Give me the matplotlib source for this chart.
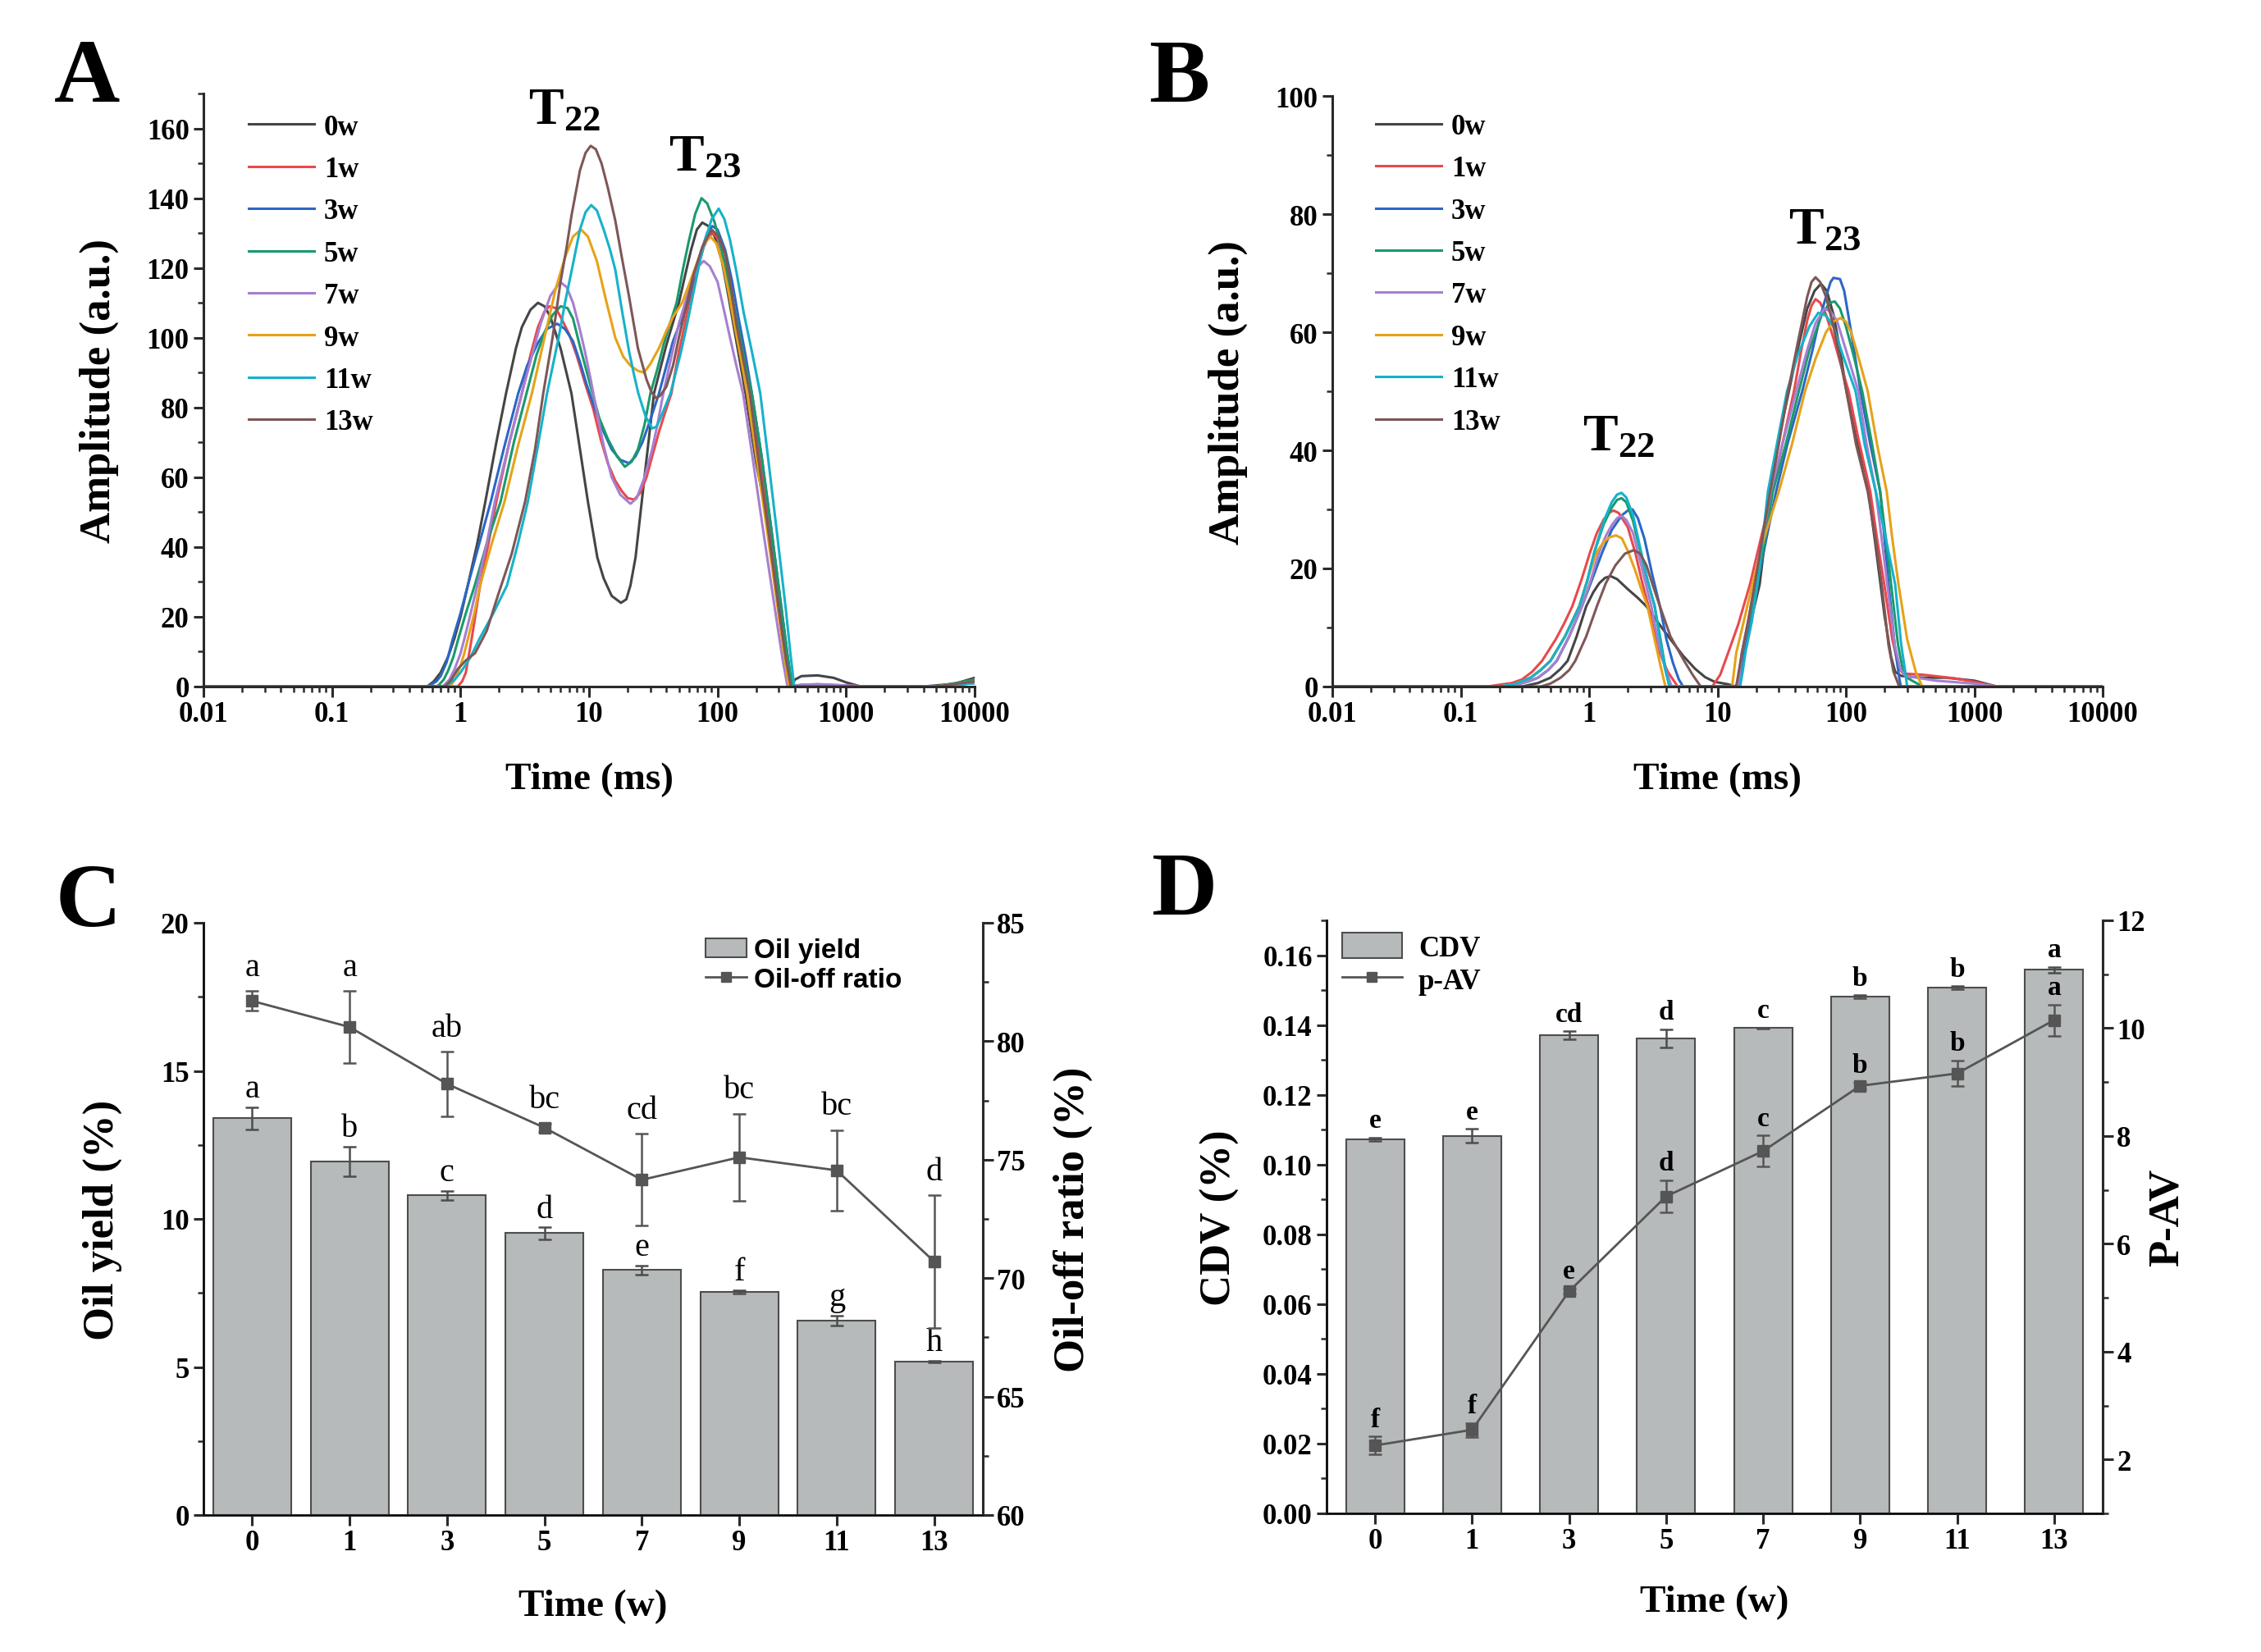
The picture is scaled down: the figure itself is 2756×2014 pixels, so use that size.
import matplotlib
matplotlib.use("Agg")
import matplotlib.pyplot as plt
from matplotlib.lines import Line2D
from matplotlib.patches import Patch
from matplotlib.ticker import MultipleLocator, FixedLocator, FormatStrFormatter

plt.rcParams['font.family'] = ['Liberation Serif', 'DejaVu Serif']
plt.rcParams['font.weight'] = 'bold'
plt.rcParams['axes.labelweight'] = 'bold'
plt.rcParams['mathtext.fontset'] = 'custom'
plt.rcParams['mathtext.rm'] = 'Liberation Serif:bold'
plt.rcParams['mathtext.it'] = 'Liberation Serif:bold'
plt.rcParams['mathtext.bf'] = 'Liberation Serif:bold'

# ---- data --------------------------------------------------------------
week_labels = ['0w', '1w', '3w', '5w', '7w', '9w', '11w', '13w']
week_colors = ['#454545', '#e8494d', '#2b67c4', '#1a9a6c', '#a67fd0',
               '#e6a219', '#16b2c9', '#7e5756']

# panel A: T2 distribution, amplitude vs relaxation time (ms)
a0_t = [0.01, 0.55, 0.62, 0.7, 0.8, 0.9, 1.0, 1.14, 1.35, 1.56, 1.9, 2.26, 2.7, 3.0, 3.5,
        4.0, 4.5, 5.0, 6.0, 7.3, 8.5, 9.8, 11.6, 13, 15, 17.7, 19.5, 21, 23, 27, 32, 40,
        50, 56, 62, 69, 76, 85, 95, 108, 120, 140, 165, 200, 250, 300, 340, 370, 400, 450,
        600, 800, 1000, 1300, 4000, 7000, 10000]
a0_amp = [0, 0, 1.5, 4, 8.5, 14, 20, 29, 41, 53, 70, 84, 97, 103, 108, 110, 109, 106, 97,
          84, 68, 53, 37, 31, 26, 24, 25, 29, 37, 60, 84, 98, 110, 118, 125, 131, 133, 132,
          129, 122, 113, 99, 84, 64, 46, 25, 11, 0, 2, 3, 3.2, 2.5, 1.2, 0, 0, 0.8, 2.5]
a1_t = [0.01, 0.95, 1.03, 1.1, 1.22, 1.3, 1.42, 1.65, 1.9, 2.4, 3.0, 3.5, 4.0, 4.5, 4.9, 5.5,
        6.0, 7.0, 8.0, 9.3, 10.8, 12.3, 14, 16, 18, 20, 22.5, 25, 28, 31, 35, 39, 43.7, 50,
        55, 60, 65, 71, 78, 85, 92, 100, 108, 115, 125, 140, 160, 180, 215, 250, 300, 340,
        375, 450, 600, 1000, 1500, 5000, 10000]
a1_amp = [0, 0, 1.5, 4, 13.6, 20, 29, 41, 53, 70, 84, 95, 103, 107.5, 109, 108.5, 106, 101,
          95, 87, 79.5, 71, 64, 59, 56, 54, 53.6, 55.5, 60, 66, 73, 78.5, 84, 96, 103, 110,
          115, 121, 126, 129, 130, 128.5, 125, 121, 114, 104, 94, 84, 64, 46, 25, 11, 0,
          0.5, 0.6, 0.3, 0, 0, 1.5]
a3_t = [0.01, 0.56, 0.59, 0.65, 0.7, 0.78, 0.87, 1.0, 1.14, 1.4, 1.72, 2.2, 2.81, 3.3, 4.0,
        4.7, 5.66, 6.5, 7.5, 8.5, 9.5, 11, 13, 15, 17.5, 20.5, 23, 26, 30, 35, 40, 45, 52,
        58.6, 66, 75, 83, 91, 100, 115, 130, 145, 165, 185, 220, 260, 310, 350, 380, 5000,
        10000]
a3_amp = [0, 0, 0.5, 1.5, 3, 7, 13.6, 21, 29, 41, 53, 69, 84, 92, 98.5, 102.5, 104, 102.5,
          99, 93, 87, 80, 73, 68, 65, 64, 66, 70, 76.5, 84, 92, 99, 105, 110, 118, 125, 130,
          132, 131, 125, 116, 106, 95, 84, 66, 46, 24, 9, 0, 0, 1]
a5_t = [0.01, 0.65, 0.68, 0.74, 0.8, 0.88, 0.96, 1.1, 1.29, 1.6, 2.05, 2.6, 3.26, 3.9, 4.5,
        5.2, 6.0, 6.8, 7.5, 8.5, 10.3, 12, 14, 16.5, 19, 21.5, 24, 27, 30, 34, 38, 43, 48,
        54, 60, 67, 75, 83, 95, 108, 120, 135, 150, 165, 185, 220, 260, 310, 350, 380, 5000,
        10000]
a5_amp = [0, 0, 0.5, 2, 4.5, 8.5, 13.6, 21, 29, 41, 53, 70, 84, 95, 101.5, 106.5, 109, 108.5,
          105.5, 97.5, 86, 77, 71, 66, 63, 64.5, 68, 75, 84, 91, 98, 104.5, 110, 120, 128,
          135.5, 140, 138.5, 133, 125, 117, 108.5, 100, 92, 84, 66, 46, 24, 9, 0, 0, 2]
a7_t = [0.01, 0.72, 0.75, 0.82, 0.9, 1.0, 1.07, 1.2, 1.35, 1.6, 1.85, 2.4, 3.0, 3.6, 4.2, 5.0,
        5.96, 6.7, 7.5, 8.4, 9.3, 10.3, 11.4, 13, 15, 17.5, 21, 23.5, 27, 31, 34, 37.8, 44,
        50, 57, 64, 71, 78, 87, 100, 112, 125, 140, 158, 190, 230, 280, 320, 350, 450, 600,
        1000, 1500, 5000, 10000]
a7_amp = [0, 0, 0.5, 2, 5, 9.5, 13.6, 21, 29, 41, 53, 70, 84, 95, 104, 112, 116, 114.5, 110,
          103, 96, 88, 79.5, 69, 60, 55, 52.4, 54, 60, 68, 75, 84, 95, 104, 111, 117, 120.5,
          122, 120.5, 116, 108, 100, 92, 84, 64, 43, 22, 8, 0, 0.5, 0.7, 0.3, 0, 0, 1]
a9_t = [0.01, 0.82, 0.85, 0.92, 1.0, 1.07, 1.14, 1.28, 1.42, 1.75, 2.2, 2.8, 3.59, 4.5, 5.5,
        6.5, 7.5, 8.67, 9.8, 11.5, 13.5, 16, 18.5, 21, 24, 26.8, 30, 35, 40, 45, 53, 61, 70,
        79, 88, 98, 110, 122, 135, 152, 170, 200, 240, 290, 330, 360, 5000, 10000]
a9_amp = [0, 0, 0.5, 2.5, 6, 9.5, 13.6, 21, 29, 41, 53, 69, 84, 100, 114, 123, 129, 131, 129,
          122, 111, 100, 94.5, 92, 90.5, 90, 92.5, 97, 102, 106, 110, 116, 122, 127, 129, 127,
          121, 113, 104, 94, 84, 66, 46, 24, 9, 0, 0, 1.5]
a11_t = [0.01, 0.77, 0.8, 0.9, 1.0, 1.2, 1.4, 1.8, 2.3, 2.8, 3.34, 4.0, 4.71, 5.8, 6.5, 7.3,
         8.5, 9.4, 10.4, 11.5, 13, 14.5, 16, 18, 20.5, 22.5, 24.2, 27.5, 31, 33.5, 36, 43,
         52, 58, 65, 72, 80, 90, 102, 113, 125, 140, 160, 185, 215, 250, 290, 340, 370, 395,
         5000, 10000]
a11_amp = [0, 0, 0.5, 2, 4, 8.5, 13.6, 21, 29, 41, 53, 69, 84, 100, 110, 119, 131, 136, 138,
           136.5, 131, 125.5, 119.5, 108, 96, 89, 84, 77.5, 74, 74.5, 77, 84, 96, 104, 113,
           121, 128, 134, 137, 134, 128, 119, 107, 96, 84, 64, 44, 22, 9, 0, 0, 1]
a13_t = [0.01, 0.75, 0.78, 0.85, 0.95, 1.1, 1.3, 1.6, 1.95, 2.5, 3.18, 3.8, 4.4, 5.2, 6.0,
         6.7, 7.3, 8.5, 9.4, 10.3, 11.3, 12.5, 14, 16, 18, 20.5, 24, 28, 30.5, 33.4, 36, 40,
         45, 50, 57, 65, 76, 90, 102, 115, 128, 140, 158, 178, 210, 250, 300, 340, 372, 5000,
         10000]
a13_amp = [0, 0, 0.5, 2, 5, 7.5, 9.6, 16, 26, 38, 53, 68, 84, 100, 116, 126, 135, 148, 153,
           155, 154, 150, 143, 133.6, 123, 111.7, 97, 88, 84.5, 82.6, 83.5, 86, 92, 100, 109,
           118, 126, 131, 129, 124, 114, 104, 94, 84, 64, 44, 22, 8, 0, 0, 1.5]

# panel B
b0_t = [0.01, 0.3, 0.4, 0.5, 0.6, 0.68, 0.8, 0.95, 1.08, 1.2, 1.33, 1.47, 1.65, 2.0, 2.4, 2.79,
        3.4, 4.3, 5.4, 6.7, 8, 9.5, 12, 14, 15.5, 17.5, 21.3, 26, 30, 36, 42, 50, 57, 64,
        71, 80, 90, 101, 120, 144, 170, 200, 225, 242, 270, 400, 600, 1000, 1500, 10000]
b0_amp = [0, 0, 0.6, 1.5, 3, 4.35, 8.5, 13.6, 16, 17.5, 18.4, 18.7, 18.2, 16.5, 15, 13.6, 11,
          8, 5.2, 3, 1.6, 0.8, 0.4, 0, 3, 9.5, 17.3, 33, 42, 50, 57, 64, 67, 68.2, 67, 63,
          57, 50, 42, 35.8, 24, 12, 5, 2.5, 1.8, 1.5, 1.5, 1, 0, 0]
b1_t = [0.01, 0.16, 0.2, 0.25, 0.3, 0.36, 0.43, 0.55, 0.64, 0.74, 0.87, 1.02, 1.15, 1.3, 1.45,
        1.55, 1.7, 2.0, 2.3, 2.6, 2.9, 3.2, 3.5, 4.1, 4.9, 9.1, 10.5, 12.1, 14.5, 17.9, 22,
        26.6, 32, 39.4, 45, 50, 54, 58, 63, 70, 80, 90, 105, 125, 155, 175, 199, 230, 260,
        280, 400, 700, 1000, 1500, 10000]
b1_amp = [0, 0, 0.3, 0.6, 1.2, 2.5, 4.35, 8, 10.7, 13.6, 18, 22.8, 26, 28.3, 29.5, 29.8, 29.4,
          27, 22.5, 17.5, 13.6, 9.5, 6, 2.5, 0, 0, 2, 5.7, 10.5, 17.3, 25.5, 33, 41, 50, 57,
          62, 64.5, 65.6, 65, 63, 59, 55, 50, 42, 33, 25, 17.3, 8, 3, 2.2, 2, 1.4, 0.8, 0, 0]
b3_t = [0.01, 0.22, 0.28, 0.34, 0.4, 0.48, 0.56, 0.7, 0.88, 1.05, 1.27, 1.5, 1.8, 2.0, 2.18,
        2.4, 2.7, 3.1, 3.56, 4.0, 4.5, 5.0, 5.4, 14, 15, 16, 18, 20.3, 24, 28.6, 35, 45.7,
        55, 62, 70, 76, 80, 90, 97, 110, 130, 155, 185, 200, 215, 240, 260, 268, 10000]
b3_amp = [0, 0, 0.4, 0.9, 1.5, 2.8, 4.35, 8.5, 13.6, 18, 22.8, 26.5, 29, 29.8, 30, 28.5, 25,
          19, 13.6, 8, 4, 1.2, 0, 0, 2.5, 5.7, 11, 17.3, 25, 33, 41, 50, 57, 62, 66, 68.5,
          69.2, 69, 67, 60, 50, 41, 33, 25, 17.3, 7, 1.5, 0, 0]
b5_t = [0.01, 0.2, 0.26, 0.3, 0.35, 0.42, 0.5, 0.65, 0.84, 0.97, 1.1, 1.3, 1.5, 1.65, 1.79,
        1.95, 2.2, 2.5, 2.85, 3.24, 3.6, 3.9, 4.23, 14.5, 15.5, 17.5, 20.3, 23.5, 27, 34, 43,
        52, 65, 75, 82, 90, 100, 115, 134, 160, 185, 205, 225, 255, 280, 300, 340, 400, 10000]
b5_amp = [0, 0, 0.4, 0.9, 1.5, 2.8, 4.35, 8.5, 13.6, 18, 22.8, 27.5, 30.3, 31.6, 31.9, 31.2,
          28, 23, 18, 13.6, 8, 3.5, 0, 0, 5.7, 11, 17.3, 25, 33, 41, 50, 57, 63, 65, 65.2, 64,
          61, 56, 50, 41, 33, 25, 17.3, 7, 2.5, 1.5, 0.8, 0, 0]
b7_t = [0.01, 0.22, 0.28, 0.34, 0.4, 0.48, 0.56, 0.7, 0.88, 1.03, 1.2, 1.35, 1.5, 1.65, 1.79,
        1.95, 2.2, 2.55, 3.05, 3.5, 4.0, 4.4, 14.5, 15.5, 17.3, 19.5, 22.5, 26, 32, 41, 50,
        58, 68, 76, 85, 100, 125, 145, 171, 190, 210, 240, 265, 290, 500, 1000, 1500, 10000]
b7_amp = [0, 0, 0.4, 0.9, 1.5, 2.8, 4.35, 8.5, 13.6, 18, 22.8, 25.5, 27.3, 28.5, 28.9, 28.2,
          26, 20.5, 13.6, 7, 2.5, 0, 0, 5.7, 11, 17.3, 25, 33, 41, 50, 57, 61.5, 64, 63.5,
          62, 57, 50, 41, 33, 25, 17.3, 7, 3, 1.8, 1, 0.5, 0, 0]
b9_t = [0.01, 0.2, 0.26, 0.3, 0.35, 0.42, 0.5, 0.65, 0.84, 1.0, 1.15, 1.3, 1.45, 1.62, 1.8,
        2.0, 2.3, 2.55, 2.85, 3.2, 3.6, 3.93, 13, 14, 16, 18.7, 23, 30, 38, 48, 58, 70, 80,
        90.6, 100, 110, 128, 148, 175, 208, 230, 257, 300, 350, 393, 10000]
b9_amp = [0, 0, 0.4, 0.9, 1.5, 2.8, 4.35, 8.5, 13.6, 19, 22.8, 24.5, 25.3, 25.6, 25.1, 23,
          19.5, 16.5, 13.6, 8.5, 3.5, 0, 0, 5.7, 11, 17.3, 25, 33, 41, 50, 55.5, 60, 61.8,
          62.4, 61.8, 60, 55, 50, 41, 33, 25, 17.3, 8, 2.5, 0, 0]
b11_t = [0.01, 0.2, 0.26, 0.3, 0.35, 0.42, 0.5, 0.65, 0.84, 0.97, 1.1, 1.3, 1.5, 1.65, 1.79,
         1.95, 2.2, 2.5, 2.85, 3.24, 3.6, 3.9, 4.23, 15, 15.7, 16.5, 18.5, 20.5, 22.5, 24.7,
         29, 34.8, 42, 52, 61, 70, 80, 95, 119, 140, 171, 205, 242, 270, 290, 300, 10000]
b11_amp = [0, 0, 0.4, 0.9, 1.5, 2.8, 4.35, 8.5, 13.6, 18, 22.8, 28, 31.2, 32.5, 32.8, 32, 29,
           23.5, 18, 13.6, 7.5, 3, 0, 0, 2.5, 5.7, 11, 17.3, 25, 33, 41, 50, 56, 61, 63.3,
           62.8, 61, 56, 50, 41, 33, 25, 17.3, 7, 2.5, 0, 0]
b13_t = [0.01, 0.42, 0.5, 0.6, 0.7, 0.78, 0.95, 1.15, 1.35, 1.6, 1.9, 2.23, 2.5, 2.8, 3.15,
         3.56, 4.3, 5.5, 6.4, 7.4, 14, 15.5, 17.3, 19.5, 22.3, 25.7, 30, 35.5, 42, 50, 54,
         58, 63, 70, 80, 101, 120, 148, 170, 190, 215, 235, 250, 260, 10000]
b13_amp = [0, 0, 0.5, 1.5, 2.8, 4.35, 8.5, 13.6, 17.5, 20.5, 22.5, 23.1, 22.5, 20.5, 17,
           13.6, 8.5, 4.35, 2, 0, 0, 5.7, 11, 17.3, 25, 33, 41, 50, 58, 66, 68.5, 69.3, 68.5,
           66, 61, 50, 41, 33, 25, 17.3, 7, 2.5, 1, 0, 0]

# panels C and D (storage time in weeks)
weeks = ['0', '1', '3', '5', '7', '9', '11', '13']
oil_yield = [13.4, 11.95, 10.8, 9.52, 8.28, 7.54, 6.57, 5.18]
oil_yield_err = [0.38, 0.5, 0.15, 0.2, 0.15, 0.06, 0.17, 0.03]
oil_off = [81.7, 80.6, 78.2, 76.35, 74.15, 75.1, 74.55, 70.7]
oil_off_err = [0.42, 1.52, 1.36, 0.18, 1.94, 1.84, 1.7, 2.8]
yield_letters = ['a', 'b', 'c', 'd', 'e', 'f', 'g', 'h']
off_letters = ['a', 'a', 'ab', 'bc', 'cd', 'bc', 'bc', 'd']

cdv = [0.1072, 0.1082, 0.1370, 0.1362, 0.1391, 0.1481, 0.1507, 0.1558]
cdv_err = [0.0005, 0.0020, 0.0012, 0.0026, 0.0002, 0.0004, 0.0004, 0.0008]
pav = [2.26, 2.55, 5.12, 6.88, 7.72, 8.93, 9.16, 10.15]
pav_err = [0.17, 0.13, 0.05, 0.30, 0.29, 0.06, 0.24, 0.29]
cdv_letters = ['e', 'e', 'cd', 'd', 'c', 'b', 'b', 'a']
pav_letters = ['f', 'f', 'e', 'd', 'c', 'b', 'b', 'a']

A_series = [(a0_t, a0_amp), (a1_t, a1_amp), (a3_t, a3_amp), (a5_t, a5_amp),
            (a7_t, a7_amp), (a9_t, a9_amp), (a11_t, a11_amp), (a13_t, a13_amp)]
B_series = [(b0_t, b0_amp), (b1_t, b1_amp), (b3_t, b3_amp), (b5_t, b5_amp),
            (b7_t, b7_amp), (b9_t, b9_amp), (b11_t, b11_amp), (b13_t, b13_amp)]

# ---- layout --------------------------------------------------------------
W, H = 2756, 2015
fig = plt.figure(figsize=(W / 100, H / 100), dpi=100)


def rect(l, t, r, b):
    return [l / W, 1 - b / H, (r - l) / W, (b - t) / H]


SPINE = '#2a2a2a'
TICK_FS = 25
XLABEL_FS = 34
YLABEL_FS = 38
BAR_FC = '#b6baba'
BAR_EC = '#4d4d4d'
LINE_C = '#555555'


def style(ax):
    for s in ['top', 'right']:
        ax.spines[s].set_visible(False)
    for s in ['left', 'bottom']:
        ax.spines[s].set_linewidth(2.2)
        ax.spines[s].set_color(SPINE)
    ax.tick_params(which='major', direction='out', length=9, width=2.2,
                   labelsize=TICK_FS, color=SPINE)
    ax.tick_params(which='minor', direction='out', length=5, width=1.8, color=SPINE)


def style_right(ax):
    ax.spines['top'].set_visible(False)
    ax.spines['right'].set_linewidth(2.2)
    ax.spines['right'].set_color(SPINE)
    ax.tick_params(which='major', direction='out', length=9, width=2.2,
                   labelsize=TICK_FS, color=SPINE)
    ax.tick_params(which='minor', direction='out', length=5, width=1.8, color=SPINE)


def t2_panel(ax, series, ymax, ymajor, yminor, legend_xy):
    for (t, amp), lab, c in zip(series, week_labels, week_colors):
        ax.plot(t, amp, color=c, lw=2.2, label=lab, solid_joinstyle='round')
    ax.set_xscale('log')
    ax.set_xlim(0.01, 10000)
    ax.set_ylim(0, ymax)
    ax.xaxis.set_major_locator(FixedLocator([0.01, 0.1, 1, 10, 100, 1000, 10000]))
    ax.set_xticklabels(['0.01', '0.1', '1', '10', '100', '1000', '10000'])
    ax.yaxis.set_major_locator(MultipleLocator(ymajor))
    ax.yaxis.set_minor_locator(MultipleLocator(yminor))
    style(ax)
    ax.set_xlabel('Time (ms)', fontsize=XLABEL_FS, labelpad=30)
    ax.set_ylabel('Amplitude (a.u.)', fontsize=YLABEL_FS, labelpad=24)
    leg = ax.legend(loc='upper left', bbox_to_anchor=legend_xy, frameon=False,
                    fontsize=TICK_FS, handlelength=2.3, handletextpad=0.35,
                    labelspacing=0.53, borderaxespad=0, borderpad=0)
    for line in leg.get_lines():
        line.set_linewidth(2.2)


axA = fig.add_axes(rect(248, 115, 1188, 838))
t2_panel(axA, A_series, 170, 20, 10, (0.0585, 0.966))
axA.text(6.4, 165, r'T$_{22}$', fontsize=46, ha='center', va='center', clip_on=False)
axA.text(80, 151.5, r'T$_{23}$', fontsize=46, ha='center', va='center', clip_on=False)

axB = fig.add_axes(rect(1624, 118, 2563, 838))
t2_panel(axB, B_series, 100, 20, 10, (0.0564, 0.971))
axB.text(1.7, 42.2, r'T$_{22}$', fontsize=46, ha='center', va='center')
axB.text(68, 77.2, r'T$_{23}$', fontsize=46, ha='center', va='center')

# ---- panel C ---------------------------------------------------------------
x = list(range(len(weeks)))
axC = fig.add_axes(rect(248, 1126, 1198, 1848))
axC.bar(x, oil_yield, width=0.8, color=BAR_FC, edgecolor=BAR_EC, lw=1.5, zorder=2)
axC.errorbar(x, oil_yield, yerr=oil_yield_err, fmt='none', ecolor=BAR_EC,
             elinewidth=1.8, capsize=6, capthick=1.8, zorder=3)
axC.set_xlim(-0.5, 7.5)
axC.set_ylim(0, 20)
axC.set_xticks(x)
axC.set_xticklabels(weeks)
axC.yaxis.set_major_locator(MultipleLocator(5))
axC.yaxis.set_minor_locator(MultipleLocator(2.5))
style(axC)
axC.set_xlabel('Time (w)', fontsize=XLABEL_FS, labelpad=28)
axC.set_ylabel('Oil yield (%)', fontsize=YLABEL_FS, labelpad=34)
for xi, v, e, s in zip(x, oil_yield, oil_yield_err, yield_letters):
    axC.annotate(s, (xi, v + e), xytext=(0, 9), textcoords='offset points',
                 ha='center', va='baseline', fontsize=29, fontweight='normal')

axC2 = axC.twinx()
axC2.errorbar(x, oil_off, yerr=oil_off_err, fmt='s-', color=LINE_C, ms=10, lw=2,
              ecolor=LINE_C, elinewidth=1.8, capsize=6, capthick=1.8)
axC2.set_ylim(60, 85)
axC2.yaxis.set_major_locator(MultipleLocator(5))
axC2.yaxis.set_minor_locator(MultipleLocator(2.5))
style_right(axC2)
axC2.set_ylabel('Oil-off ratio (%)', fontsize=YLABEL_FS, labelpad=24)
for xi, v, e, s in zip(x, oil_off, oil_off_err, off_letters):
    axC2.annotate(s, (xi, v + e), xytext=(0, 14), textcoords='offset points',
                  ha='center', va='baseline', fontsize=29, fontweight='normal')
axC2.legend([Patch(facecolor=BAR_FC, edgecolor=BAR_EC, lw=1.5),
             Line2D([], [], color=LINE_C, marker='s', ms=9, lw=2)],
            ['Oil yield', 'Oil-off ratio'], loc='upper left',
            bbox_to_anchor=(0.644, 0.975), frameon=False,
            prop={'family': 'Liberation Sans', 'weight': 'bold', 'size': 24},
            handlelength=1.5, handletextpad=0.28, labelspacing=0.15,
            borderaxespad=0, borderpad=0)

# ---- panel D ---------------------------------------------------------------
axD = fig.add_axes(rect(1617, 1123, 2563, 1846))
axD.bar(x, cdv, width=0.6, color=BAR_FC, edgecolor=BAR_EC, lw=1.5, zorder=2)
axD.errorbar(x, cdv, yerr=cdv_err, fmt='none', ecolor=BAR_EC,
             elinewidth=1.8, capsize=6, capthick=1.8, zorder=3)
axD.set_xlim(-0.5, 7.5)
axD.set_ylim(0, 0.17)
axD.set_xticks(x)
axD.set_xticklabels(weeks)
axD.yaxis.set_major_locator(MultipleLocator(0.02))
axD.yaxis.set_minor_locator(MultipleLocator(0.01))
axD.yaxis.set_major_formatter(FormatStrFormatter('%.2f'))
style(axD)
axD.set_xlabel('Time (w)', fontsize=XLABEL_FS, labelpad=26)
axD.set_ylabel('CDV (%)', fontsize=YLABEL_FS, labelpad=20)
for xi, v, e, s in zip(x, cdv, cdv_err, cdv_letters):
    axD.annotate(s, (xi, v + e), xytext=(0, 9), textcoords='offset points',
                 ha='center', va='baseline', fontsize=24)

axD2 = axD.twinx()
axD2.errorbar(x, pav, yerr=pav_err, fmt='s-', color=LINE_C, ms=10, lw=2,
              ecolor=LINE_C, elinewidth=1.8, capsize=6, capthick=1.8)
axD2.set_ylim(1, 12)
axD2.yaxis.set_major_locator(MultipleLocator(2))
axD2.yaxis.set_minor_locator(MultipleLocator(1))
style_right(axD2)
axD2.set_ylabel('P-AV', fontsize=YLABEL_FS, labelpad=2)
for xi, v, e, s in zip(x, pav, pav_err, pav_letters):
    axD2.annotate(s, (xi, v + e), xytext=(0, 9), textcoords='offset points',
                  ha='center', va='baseline', fontsize=24)
axD2.legend([Patch(facecolor=BAR_FC, edgecolor=BAR_EC, lw=1.5),
             Line2D([], [], color=LINE_C, marker='s', ms=9, lw=2)],
            ['CDV', 'p-AV'], loc='upper left', bbox_to_anchor=(0.02, 0.979),
            frameon=False, fontsize=25, handlelength=2.1, handleheight=1.0,
            handletextpad=0.58, labelspacing=0.13, borderaxespad=0, borderpad=0)

# panel letters
for s, (px, py) in zip('ABCD', [(106, 97), (1437, 97), (108, 1102), (1443, 1088)]):
    fig.text(px / W, 1 - py / H, s, fontsize=80, ha='center', va='center')

fig.savefig('out.png', dpi=100)
